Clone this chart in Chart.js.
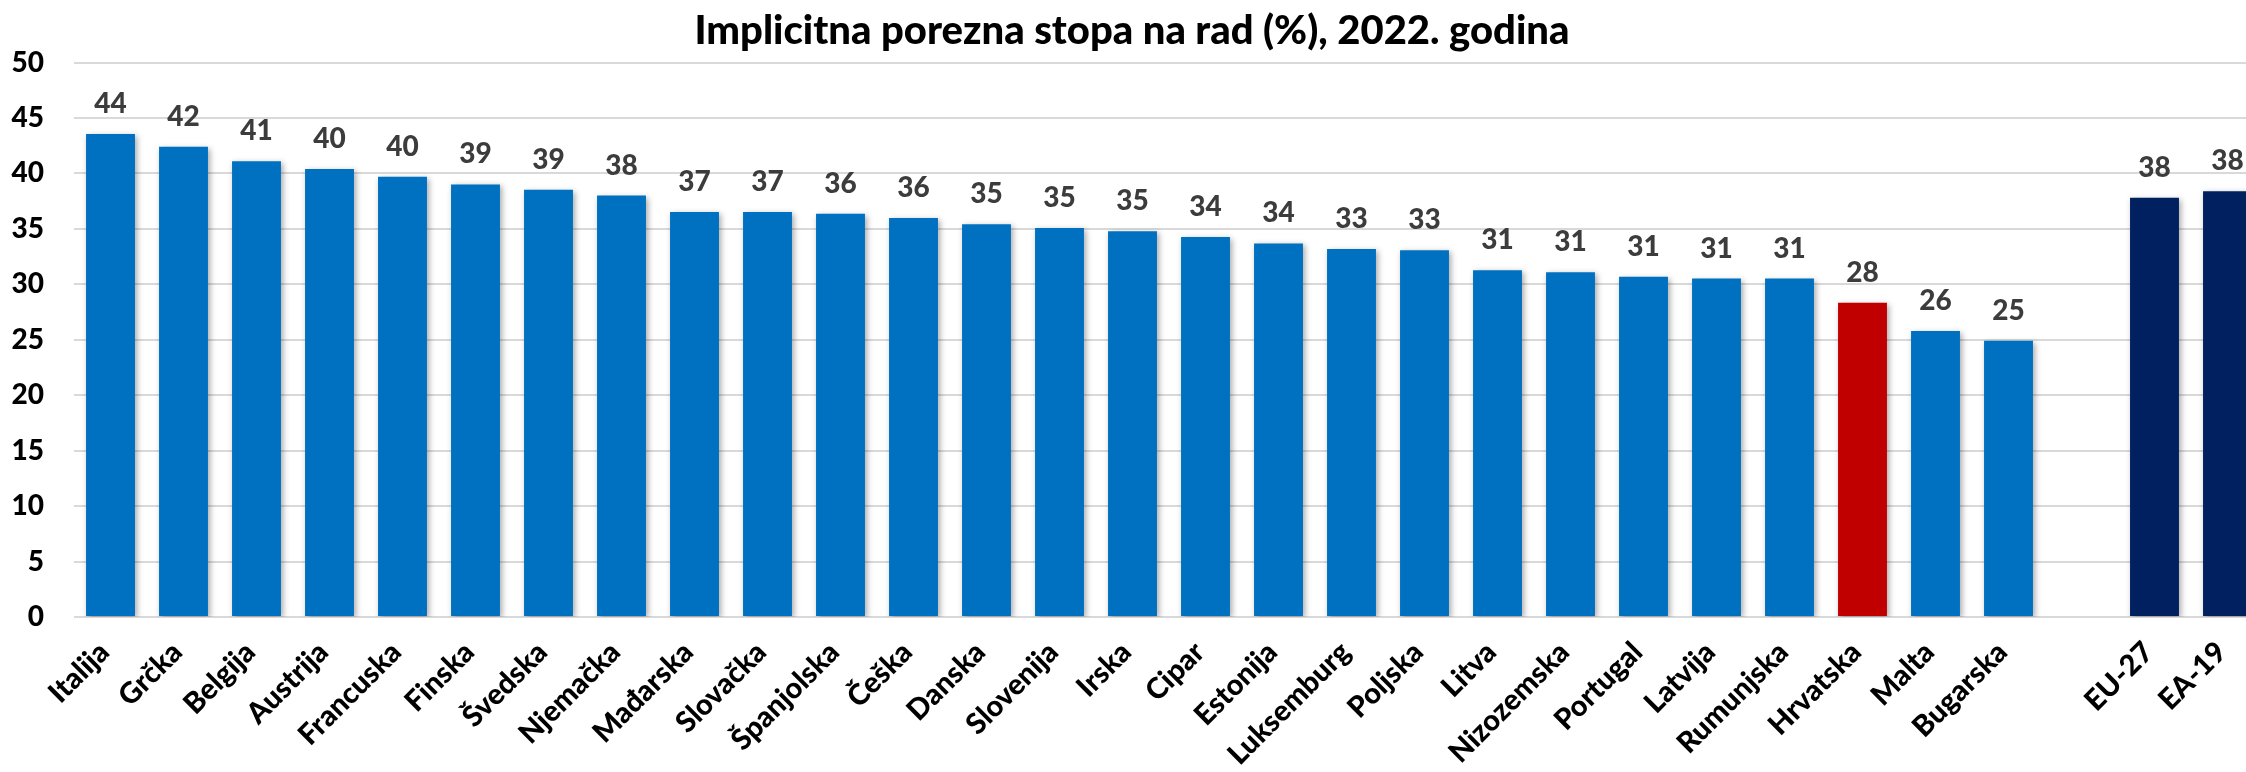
<!DOCTYPE html>
<html>
<head>
<meta charset="utf-8">
<script src="https://cdn.jsdelivr.net/npm/chart.js@4.4.1/dist/chart.umd.min.js"></script>
<style>
  html, body { margin: 0; padding: 0; overflow: hidden; background: #ffffff; }
  #wrap { position: relative; width: 2264px; height: 772px; }
</style>
</head>
<body>
<div id="wrap"><canvas id="c"></canvas></div>
<script>
// Categories (an empty slot separates countries from EU aggregates)
const categories = ['Italija','Grčka','Belgija','Austrija','Francuska','Finska','Švedska','Njemačka','Mađarska','Slovačka','Španjolska','Češka','Danska','Slovenija','Irska','Cipar','Estonija','Luksemburg','Poljska','Litva','Nizozemska','Portugal','Latvija','Rumunjska','Hrvatska','Malta','Bugarska','','EU-27','EA-19'];
// Implicit tax rate on labour (%), 2022
const values = [43.55, 42.4, 41.1, 40.4, 39.7, 39.0, 38.52, 38.0, 36.52, 36.52, 36.37, 35.98, 35.41, 35.08, 34.78, 34.26, 33.69, 33.18, 33.06, 31.26, 31.08, 30.69, 30.52, 30.52, 28.34, 25.8, 24.9, null, 37.8, 38.4];
// Bar colour groups
const barGroup = ['c','c','c','c','c','c','c','c','c','c','c','c','c','c','c','c','c','c','c','c','c','c','c','c','hr','c','c','','eu','eu'];
const groupColors = { c: '#0070C0', hr: '#C00000', eu: '#002060', '': '#ffffff' };
// Y axis ticks
const yTicks = [0, 5, 10, 15, 20, 25, 30, 35, 40, 45, 50];

const FONT = 'Lato, "Open Sans", "DejaVu Sans", sans-serif';

const shadowAndLabels = {
  id: 'shadowAndLabels',
  beforeDatasetsDraw(chart) {
    const ctx = chart.ctx;
    ctx.save();
    ctx.shadowColor = 'rgba(0,0,0,0.35)';
    ctx.shadowBlur = 6;
    ctx.shadowOffsetX = 2;
    ctx.shadowOffsetY = 2;
  },
  afterDatasetsDraw(chart) {
    const ctx = chart.ctx;
    ctx.restore();
    ctx.save();
    ctx.font = '900 28px ' + FONT;
    ctx.fillStyle = '#3C3C3C';
    ctx.textAlign = 'center';
    ctx.textBaseline = 'alphabetic';
    const meta = chart.getDatasetMeta(0);
    meta.data.forEach((bar, i) => {
      const v = values[i];
      if (v === null || v === undefined) return;
      ctx.fillText(String(Math.round(v)), bar.x, bar.y - 21);
    });
    ctx.restore();
  }
};

new Chart(document.getElementById('c'), {
  type: 'bar',
  data: {
    labels: categories,
    datasets: [{
      data: values,
      backgroundColor: barGroup.map(g => groupColors[g]),
      borderWidth: 0,
      barPercentage: 0.67,
      categoryPercentage: 1.0
    }]
  },
  options: {
    responsive: true,
    maintainAspectRatio: false,
    animation: false,
    layout: { padding: { left: 0, right: 0, top: 0, bottom: 0 } },
    plugins: {
      legend: { display: false },
      tooltip: { enabled: false },
      title: {
        display: true,
        text: 'Implicitna porezna stopa na rad (%), 2022. godina',
        color: '#000000',
        font: { family: FONT, size: 40, weight: '900', lineHeight: 1.2 },
        padding: { top: 7, bottom: 7.5 }
      }
    },
    scales: {
      x: {
        grid: { display: false, drawTicks: false },
        border: { display: false },
        ticks: {
          color: '#000000',
          font: { family: FONT, size: 29, weight: '900' },
          minRotation: 45,
          maxRotation: 45,
          autoSkip: false,
          padding: 18,
          labelOffset: -6
        },
        afterFit(scale) {
          scale.height = 155;
          scale.paddingLeft = 0;
          scale.paddingRight = 0;
        }
      },
      y: {
        min: 0,
        max: 50,
        afterBuildTicks(scale) { scale.ticks = yTicks.map(v => ({ value: v })); },
        grid: { color: '#D9D9D9', lineWidth: 2, drawTicks: false },
        border: { display: false },
        ticks: {
          color: '#000000',
          font: { family: FONT, size: 28, weight: '900' },
          padding: 30
        },
        afterFit(scale) { scale.width = 74; }
      }
    }
  },
  plugins: [shadowAndLabels]
});
</script>
</body>
</html>
